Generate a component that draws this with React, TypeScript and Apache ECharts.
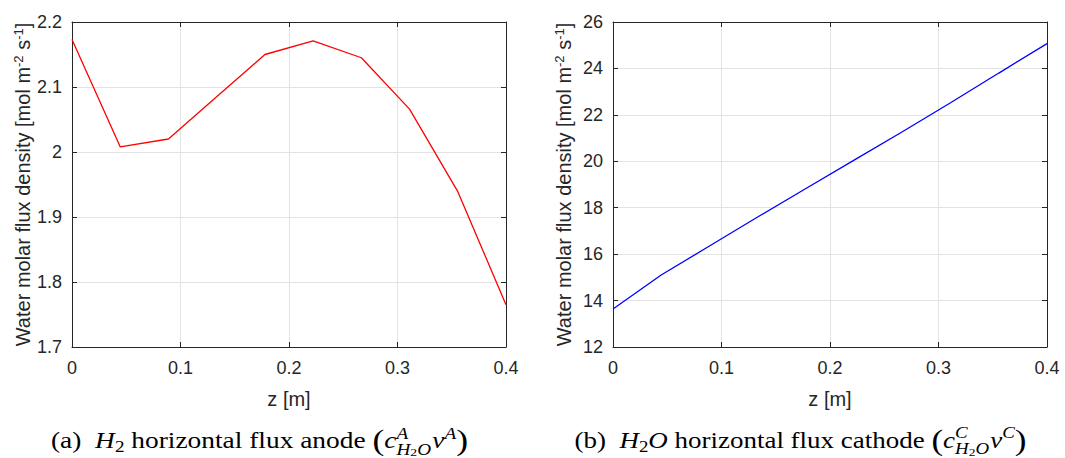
import React, { useEffect, useRef } from "react";
import * as echarts from "echarts";

// ---- data ----
const zPositions = [0, 0.0444, 0.0889, 0.1333, 0.1778, 0.2222, 0.2667, 0.3111, 0.3556, 0.4];
const anodeFlux = [2.173, 2.008, 2.02, 2.085, 2.15, 2.171, 2.145, 2.066, 1.939, 1.765];
const cathodeFlux = [13.64, 15.1, 16.35, 17.6, 18.83, 20.05, 21.27, 22.52, 23.8, 25.07];
const xTicks = [0, 0.1, 0.2, 0.3, 0.4];
const anodeYTicks = [1.7, 1.8, 1.9, 2, 2.1, 2.2];
const cathodeYTicks = [12, 14, 16, 18, 20, 22, 24, 26];
const xLabel = "z [m]";
const yLabelRich = "{n|Water molar flux density [mol m}{s|-2}{n| s}{s|-1}{n|]}";

type Run = { t: string; it?: boolean; sc?: number; dy?: number };
type Piece = Run | { stack: Run[][] };

const captionA: Piece[] = [
  { t: "(a)" },
  { t: "  " },
  { t: "H", it: true },
  { t: "2", sc: 0.7, dy: 0.18 },
  { t: " horizontal flux anode " },
  { t: "(", sc: 1.3, dy: 0.08 },
  { t: "c", it: true },
  {
    stack: [
      [{ t: "A", it: true, sc: 0.7, dy: -0.42 }],
      [
        { t: "H", it: true, sc: 0.7, dy: 0.3 },
        { t: "2", sc: 0.5, dy: 0.38 },
        { t: "O", it: true, sc: 0.7, dy: 0.3 },
      ],
    ],
  },
  { t: "v", it: true },
  { t: "A", it: true, sc: 0.7, dy: -0.42 },
  { t: ")", sc: 1.3, dy: 0.08 },
];

const captionB: Piece[] = [
  { t: "(b)" },
  { t: "  " },
  { t: "H", it: true },
  { t: "2", sc: 0.7, dy: 0.18 },
  { t: "O", it: true },
  { t: " horizontal flux cathode " },
  { t: "(", sc: 1.3, dy: 0.08 },
  { t: "c", it: true },
  {
    stack: [
      [{ t: "C", it: true, sc: 0.7, dy: -0.42 }],
      [
        { t: "H", it: true, sc: 0.7, dy: 0.3 },
        { t: "2", sc: 0.5, dy: 0.38 },
        { t: "O", it: true, sc: 0.7, dy: 0.3 },
      ],
    ],
  },
  { t: "v", it: true },
  { t: "C", it: true, sc: 0.7, dy: -0.42 },
  { t: ")", sc: 1.3, dy: 0.08 },
];

const SANS = '"Liberation Sans", Arial, Helvetica, sans-serif';
const SERIF = '"Liberation Serif", "Times New Roman", serif';
const INK = "#262626";
const GRIDLINE = "#e3e3e3";

function measure(text: string, size: number, italic: boolean) {
  const c = document.createElement("canvas").getContext("2d")!;
  c.font = `${italic ? "italic " : ""}${size}px ${SERIF}`;
  return c.measureText(text).width;
}

// lays out caption runs left to right, then stretches horizontally to the target width
function layoutCaption(pieces: Piece[], left: number, width: number, baseline: number, size: number) {
  const els: any[] = [];
  const runAt = (r: Run, x: number) => {
    const fs = size * (r.sc ?? 1);
    const w = measure(r.t, fs, !!r.it);
    const y = baseline + (r.dy ?? 0) * size - 0.3375 * fs;
    els.push({
      type: "text",
      x,
      y,
      silent: true,
      style: {
        text: r.t,
        fontSize: fs,
        fontFamily: SERIF,
        fontStyle: r.it ? "italic" : "normal",
        fill: "#000",
        align: "left",
        verticalAlign: "middle",
        textAlign: "left",
        textVerticalAlign: "middle",
      },
    });
    return w;
  };
  let x = 0;
  for (const p of pieces) {
    if ("stack" in p) {
      let maxW = 0;
      for (const line of p.stack) {
        let xx = x;
        for (const r of line) xx += runAt(r, xx);
        maxW = Math.max(maxW, xx - x);
      }
      x += maxW + 1;
    } else {
      x += runAt(p, x);
    }
  }
  const k = width / x;
  els.forEach((e) => {
    e.x = left + e.x * k;
    e.scaleX = k;
  });
  return els;
}

const fmt = (v: number) => String(parseFloat(v.toFixed(4)));

function yAxisPair(gridIndex: number, ticks: number[]) {
  const min = ticks[0];
  const max = ticks[ticks.length - 1];
  const interval = ticks[1] - ticks[0];
  const common = { type: "value", gridIndex, min, max, interval };
  return [
    {
      ...common,
      position: "left",
      name: yLabelRich,
      nameLocation: "middle",
      nameGap: 38,
      nameMoveOverlap: false,
      nameTextStyle: {
        rich: {
          n: { fontSize: 20, fontFamily: SANS, color: INK },
          s: { fontSize: 13, fontFamily: SANS, color: INK, padding: [0, 0, 9, 0] },
        },
      },
      axisLine: { show: true, onZero: false, lineStyle: { color: INK, width: 1 } },
      axisTick: { show: true, inside: true, length: 5, lineStyle: { color: INK } },
      axisLabel: { show: true, margin: 10, fontSize: 18, fontFamily: SANS, color: INK, formatter: fmt },
      splitLine: { show: true, lineStyle: { color: GRIDLINE, width: 1 } },
    },
    {
      ...common,
      position: "right",
      axisLine: { show: true, onZero: false, lineStyle: { color: INK, width: 1 } },
      axisTick: { show: true, inside: true, length: 5, lineStyle: { color: INK } },
      axisLabel: { show: false },
      splitLine: { show: false },
    },
  ];
}

function xAxisPair(gridIndex: number) {
  const common = {
    type: "value",
    gridIndex,
    min: xTicks[0],
    max: xTicks[xTicks.length - 1],
    interval: xTicks[1] - xTicks[0],
  };
  return [
    {
      ...common,
      position: "bottom",
      name: xLabel,
      nameLocation: "middle",
      nameGap: 42,
      nameMoveOverlap: false,
      nameTextStyle: { fontSize: 20, fontFamily: SANS, color: INK },
      axisLine: { show: true, onZero: false, lineStyle: { color: INK, width: 1 } },
      axisTick: { show: true, inside: true, length: 5, lineStyle: { color: INK } },
      axisLabel: { show: true, margin: 12, fontSize: 18, fontFamily: SANS, color: INK, formatter: fmt },
      splitLine: { show: true, lineStyle: { color: GRIDLINE, width: 1 } },
    },
    {
      ...common,
      position: "top",
      axisLine: { show: true, onZero: false, lineStyle: { color: INK, width: 1 } },
      axisTick: { show: true, inside: true, length: 5, lineStyle: { color: INK } },
      axisLabel: { show: false },
      splitLine: { show: false },
    },
  ];
}

export default function App() {
  const ref = useRef<HTMLDivElement>(null);
  useEffect(() => {
    if (!ref.current) return;
    const chart = echarts.init(ref.current, undefined, { renderer: "svg" });
    const option: any = {
      animation: false,
      backgroundColor: "#ffffff",
      grid: [
        { left: 72, top: 22, width: 434, height: 325, outerBoundsMode: "none", containLabel: false },
        { left: 613, top: 22, width: 434, height: 325, outerBoundsMode: "none", containLabel: false },
      ],
      xAxis: [...xAxisPair(0), ...xAxisPair(1)],
      yAxis: [...yAxisPair(0, anodeYTicks), ...yAxisPair(1, cathodeYTicks)],
      series: [
        {
          type: "line",
          xAxisIndex: 0,
          yAxisIndex: 0,
          data: zPositions.map((z, i) => [z, anodeFlux[i]]),
          showSymbol: false,
          lineStyle: { color: "#ff0000", width: 1.3 },
          itemStyle: { color: "#ff0000" },
        },
        {
          type: "line",
          xAxisIndex: 2,
          yAxisIndex: 2,
          data: zPositions.map((z, i) => [z, cathodeFlux[i]]),
          showSymbol: false,
          lineStyle: { color: "#0000ff", width: 1.3 },
          itemStyle: { color: "#0000ff" },
        },
      ],
      graphic: [
        ...layoutCaption(captionA, 51, 417, 448, 22.5),
        ...layoutCaption(captionB, 574.5, 452, 448, 22.5),
      ],
    };
    chart.setOption(option);
    return () => chart.dispose();
  }, []);
  return (
    <div
      ref={ref}
      style={{ position: "absolute", left: 0, top: 0, width: 1065, height: 458 }}
    />
  );
}
